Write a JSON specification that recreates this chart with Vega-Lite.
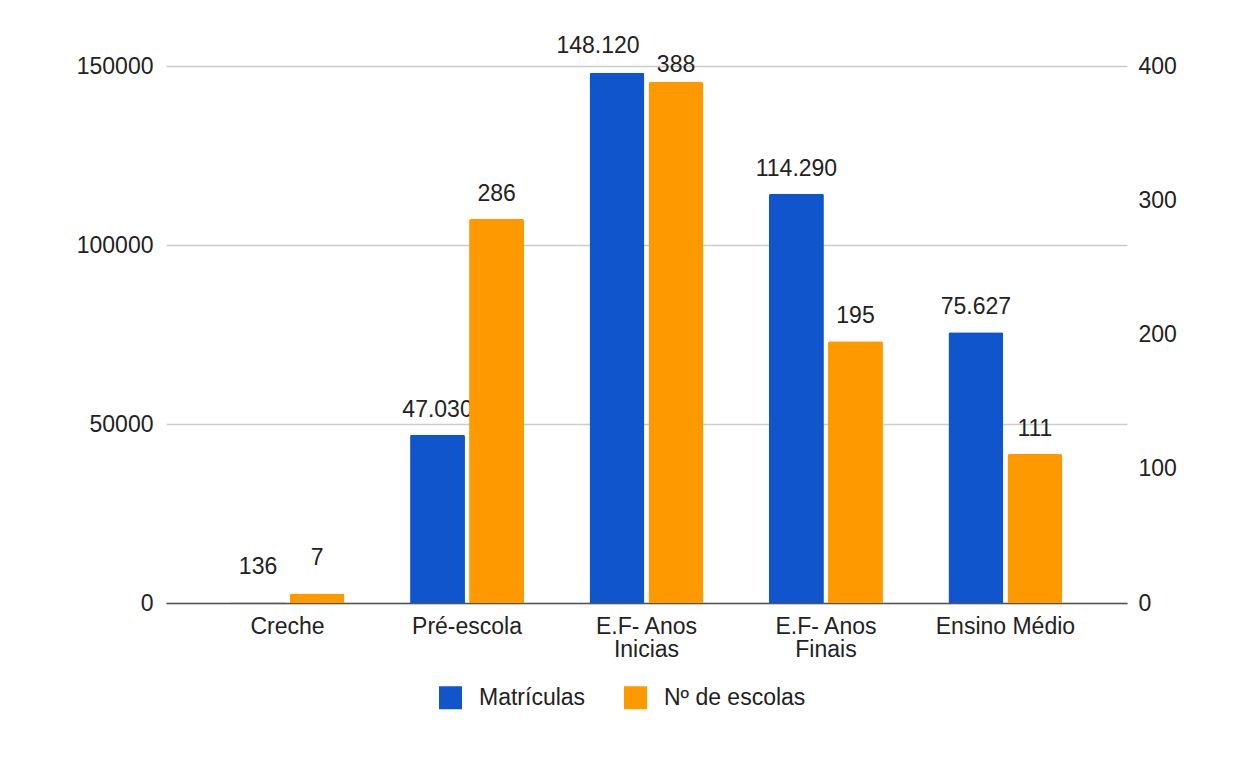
{
  "$schema": "https://vega.github.io/schema/vega-lite/v6.json",
  "width": 961,
  "height": 537,
  "autosize": {"type": "none"},
  "padding": {"left": 166, "top": 66, "right": 112, "bottom": 169},
  "background": "white",
  "data": {
    "values": [
      {"categoria": "Creche", "serie": "Matrículas", "valor": 136},
      {"categoria": "Pré-escola", "serie": "Matrículas", "valor": 47030},
      {"categoria": "E.F- Anos Inicias", "serie": "Matrículas", "valor": 148120},
      {"categoria": "E.F- Anos Finais", "serie": "Matrículas", "valor": 114290},
      {"categoria": "Ensino Médio", "serie": "Matrículas", "valor": 75627},
      {"categoria": "Creche", "serie": "Nº de escolas", "valor": 7},
      {"categoria": "Pré-escola", "serie": "Nº de escolas", "valor": 286},
      {"categoria": "E.F- Anos Inicias", "serie": "Nº de escolas", "valor": 388},
      {"categoria": "E.F- Anos Finais", "serie": "Nº de escolas", "valor": 195},
      {"categoria": "Ensino Médio", "serie": "Nº de escolas", "valor": 111}
    ]
  },
  "encoding": {
    "x": {
      "field": "categoria",
      "type": "nominal",
      "sort": ["Creche", "Pré-escola", "E.F- Anos Inicias", "E.F- Anos Finais", "Ensino Médio"],
      "scale": {"paddingInner": 0.365, "paddingOuter": 0.36},
      "axis": {
        "title": null,
        "labelAngle": 0,
        "ticks": false,
        "domain": true,
        "domainColor": "#555555",
        "domainWidth": 1.5,
        "labelPadding": 12,
        "labelFontSize": 23,
        "labelLineHeight": 23,
        "labelColor": "#222222",
        "grid": false,
        "labelExpr": "indexof(datum.label, 'E.F') == 0 ? [slice(datum.label, 0, 9), slice(datum.label, 10)] : datum.label"
      }
    },
    "xOffset": {
      "field": "serie",
      "type": "nominal",
      "scale": {"domain": ["Matrículas", "Nº de escolas"], "paddingInner": 0.07, "paddingOuter": 0}
    }
  },
  "layer": [
    {
      "transform": [{"filter": "datum.serie == 'Matrículas'"}],
      "encoding": {
        "y": {
          "field": "valor",
          "type": "quantitative",
          "scale": {"domain": [0, 150000], "nice": false, "zero": true},
          "axis": {
            "orient": "left",
            "title": null,
            "values": [0, 50000, 100000, 150000],
            "format": "d",
            "domain": false,
            "ticks": false,
            "grid": true,
            "gridColor": "#cccccc",
            "gridWidth": 1.5,
            "labelPadding": 13,
            "labelFontSize": 23,
            "labelColor": "#222222"
          }
        }
      },
      "layer": [
        {
          "mark": {"type": "bar", "cornerRadiusTopLeft": 2, "cornerRadiusTopRight": 2},
          "encoding": {
            "color": {
              "field": "serie",
              "type": "nominal",
              "scale": {"domain": ["Matrículas", "Nº de escolas"], "range": ["#1155cc", "#ff9900"]},
              "legend": {
                "title": null,
                "orient": "none",
                "direction": "horizontal",
                "legendX": 273,
                "legendY": 620,
                "symbolType": "square",
                "symbolSize": 529,
                "symbolStrokeWidth": 0,
                "symbolOpacity": 1,
                "labelFontSize": 23,
                "labelColor": "#222222",
                "labelOffset": 17,
                "columnPadding": 38,
                "padding": 0
              }
            }
          }
        },
        {
          "mark": {
            "type": "text",
            "baseline": "middle",
            "fontSize": 23,
            "color": "#222222",
            "dx": {"expr": "datum.valor > 140000 ? -19 : 0"},
            "dy": {"expr": "datum.valor < 1000 ? -36 : (datum.valor > 140000 ? -27 : -25)"}
          },
          "encoding": {"text": {"field": "valor", "type": "quantitative", "format": ",d"}}
        }
      ]
    },
    {
      "transform": [{"filter": "datum.serie == 'Nº de escolas'"}],
      "encoding": {
        "y": {
          "field": "valor",
          "type": "quantitative",
          "scale": {"domain": [0, 400], "nice": false, "zero": true},
          "axis": {
            "orient": "right",
            "title": null,
            "values": [0, 100, 200, 300, 400],
            "format": "d",
            "domain": false,
            "ticks": false,
            "grid": false,
            "labelPadding": 11,
            "labelFontSize": 23,
            "labelColor": "#222222"
          }
        }
      },
      "layer": [
        {
          "mark": {"type": "bar", "cornerRadiusTopLeft": 2, "cornerRadiusTopRight": 2},
          "encoding": {
            "color": {
              "field": "serie",
              "type": "nominal",
              "scale": {"domain": ["Matrículas", "Nº de escolas"], "range": ["#1155cc", "#ff9900"]}
            }
          }
        },
        {
          "mark": {
            "type": "text",
            "baseline": "middle",
            "fontSize": 23,
            "color": "#222222",
            "dy": {"expr": "datum.valor < 20 ? -36 : (datum.valor > 380 ? -17 : -25)"}
          },
          "encoding": {"text": {"field": "valor", "type": "quantitative", "format": "d"}}
        }
      ]
    }
  ],
  "resolve": {"scale": {"y": "independent"}},
  "config": {
    "font": "Liberation Sans",
    "view": {"stroke": null},
    "locale": {
      "number": {"decimal": ",", "thousands": ".", "grouping": [3], "currency": ["R$", ""]}
    }
  }
}
